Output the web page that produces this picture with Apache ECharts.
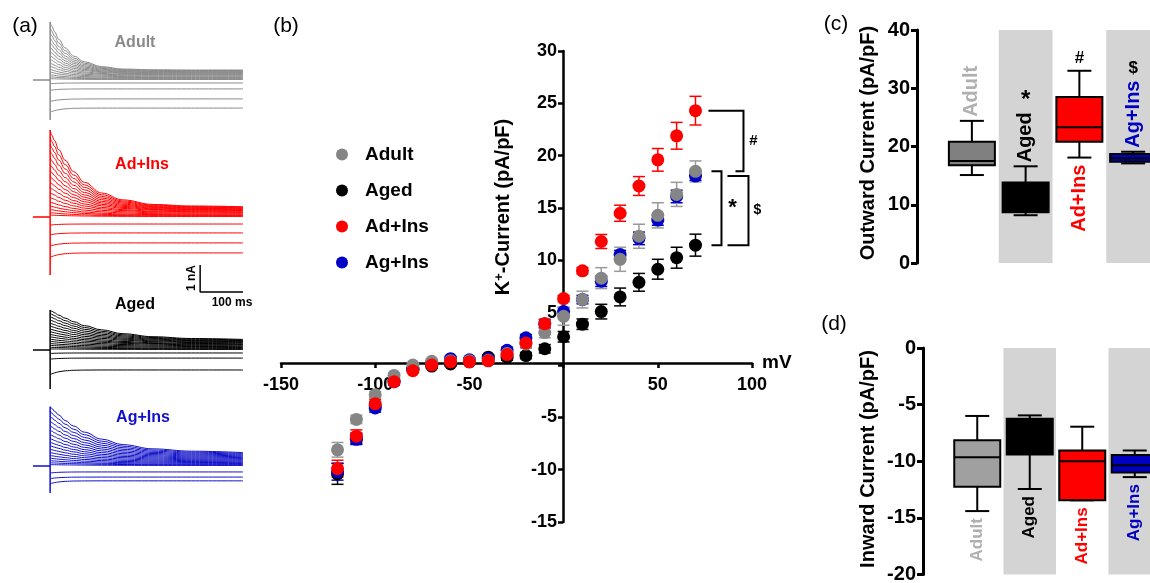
<!DOCTYPE html>
<html>
<head>
<meta charset="utf-8">
<title>K+ current</title>
<script src="https://cdn.jsdelivr.net/npm/echarts@6.0.0/dist/echarts.min.js"></script>
<style>
  html, body { margin: 0; padding: 0; background: #fff; }
  #chart { width: 1150px; height: 583px; }
</style>
</head>
<body>
<div id="chart"></div>
<script>
var FONT = '"Liberation Sans", Arial, Helvetica, sans-serif'

// ---- (a) current traces: time in ms, current in nA
var holdStart = -40
var traceTimes = [0, 4, 10, 20, 35, 55, 80, 120, 170, 240, 330, 450]
var adultDecay = [1, 0.91, 0.8, 0.64, 0.46, 0.29, 0.17, 0.07, 0.02, 0.005, 0, 0]
var adInsDecay = [1, 0.94, 0.87, 0.75, 0.61, 0.46, 0.32, 0.18, 0.09, 0.03, 0.01, 0]
var agedDecay = [1, 0.96, 0.91, 0.83, 0.73, 0.61, 0.48, 0.34, 0.21, 0.11, 0.05, 0.02]
var agInsDecay = [1, 0.96, 0.9, 0.82, 0.7, 0.58, 0.45, 0.3, 0.18, 0.09, 0.04, 0.01]
var inwardDecay = [1, 0.8, 0.6, 0.37, 0.17, 0.06, 0.02, 0, 0, 0, 0, 0]

var adultPeak = [2.15, 1.95, 1.76, 1.57, 1.4, 1.23, 1.07, 0.92, 0.78, 0.64, 0.52, 0.4, 0.3, 0.2, 0.12, 0.05]
var adultEnd = [0.37, 0.35, 0.33, 0.31, 0.29, 0.27, 0.25, 0.23, 0.2, 0.18, 0.15, 0.12, 0.09, 0.06, 0.04, 0.02]
var adultInPeak = [-0.14, -0.38, -0.8, -1.2]
var adultInEnd = [-0.11, -0.33, -0.7, -1.04]
var adultSpike = [-1.48, 2.15]

var adInsPeak = [3.2, 2.95, 2.7, 2.45, 2.2, 1.96, 1.73, 1.51, 1.3, 1.1, 0.91, 0.73, 0.56, 0.41, 0.28, 0.16, 0.07]
var adInsEnd = [0.38, 0.36, 0.34, 0.32, 0.3, 0.28, 0.26, 0.24, 0.22, 0.19, 0.17, 0.14, 0.11, 0.08, 0.06, 0.04, 0.02]
var adInsInPeak = [-0.3, -0.66, -1.08, -1.5]
var adInsInEnd = [-0.26, -0.59, -0.96, -1.33]
var adInsSpike = [-2.15, 3.22]

var agedPeak = [1.48, 1.36, 1.24, 1.12, 1.0, 0.89, 0.78, 0.68, 0.58, 0.49, 0.4, 0.32, 0.24, 0.17, 0.1, 0.04]
var agedEnd = [0.37, 0.35, 0.33, 0.31, 0.29, 0.27, 0.25, 0.22, 0.2, 0.18, 0.15, 0.12, 0.09, 0.06, 0.04, 0.02]
var agedInPeak = [-0.13, -0.34, -0.92]
var agedInEnd = [-0.11, -0.3, -0.74]
var agedSpike = [-1.44, 1.48]

var agInsPeak = [2.2, 2.02, 1.84, 1.66, 1.49, 1.33, 1.17, 1.02, 0.88, 0.75, 0.62, 0.5, 0.39, 0.29, 0.2, 0.12, 0.05]
var agInsEnd = [0.48, 0.45, 0.42, 0.39, 0.36, 0.33, 0.3, 0.27, 0.24, 0.21, 0.18, 0.15, 0.12, 0.09, 0.06, 0.04, 0.02]
var agInsInPeak = [-0.26, -0.47, -0.66]
var agInsInEnd = [-0.22, -0.41, -0.55]
var agInsSpike = [-1.0, 2.19]

// scale bar (1 nA, 100 ms) in the Ad+Ins panel
var scaleBarT = [350, 350, 450]
var scaleBarI = [-1.78, -2.78, -2.78]

// ---- (b) I-V relation
var voltages = [-120, -110, -100, -90, -80, -70, -60, -50, -40, -30, -20, -10, 0, 10, 20, 30, 40, 50, 60, 70]
var adultIV = [-8.1, -5.2, -2.85, -1.0, 0.0, 0.35, 0.4, 0.4, 0.45, 1.1, 2.0, 3.1, 4.65, 6.25, 8.3, 10.1, 12.3, 14.3, 16.3, 18.5]
var agedIV = [-10.4, -7.0, -3.9, -1.5, -0.4, -0.1, 0.1, 0.3, 0.75, 0.75, 0.9, 1.55, 2.7, 3.9, 5.1, 6.5, 7.9, 9.15, 10.25, 11.45]
var adInsIV = [-9.9, -6.8, -3.7, -1.6, -0.55, 0.0, 0.3, 0.3, 0.4, 1.0, 2.1, 3.95, 6.35, 9.0, 11.8, 14.5, 17.1, 19.6, 21.9, 24.3]
var agInsIV = [-10.2, -7.1, -4.1, -1.6, -0.4, 0.2, 0.6, 0.5, 0.6, 1.4, 2.6, 3.95, 5.1, 6.25, 8.0, 10.55, 12.1, 13.85, 16.1, 18.05]
var adultErr = [0.7, 0.4, 0.3, 0.2, 0.2, 0.2, 0.2, 0.2, 0.2, 0.3, 0.4, 0.5, 0.85, 0.8, 1.0, 1.15, 1.15, 1.2, 1.15, 1.0]
var agedErr = [1.0, 0.5, 0.4, 0.2, 0.2, 0.2, 0.2, 0.2, 0.2, 0.3, 0.3, 0.4, 0.5, 0.5, 0.7, 0.85, 0.85, 0.95, 1.0, 1.05]
var adInsErr = [0.8, 0.6, 0.4, 0.3, 0.2, 0.2, 0.2, 0.2, 0.2, 0.3, 0.4, 0.4, 0.3, 0.3, 0.67, 0.77, 0.9, 1.08, 1.28, 1.37]
var agInsErr = [0.8, 0.5, 0.4, 0.3, 0.2, 0.2, 0.2, 0.2, 0.2, 0.3, 0.3, 0.4, 0.4, 0.4, 0.5, 0.4, 0.6, 0.5, 0.6, 0.4]

// ---- (c)/(d) box plots: [min, Q1, median, Q3, max]
var boxGroups = ['Adult', 'Aged', 'Ad+Ins', 'Ag+Ins']
var outwardBox = [[15.1, 16.8, 17.5, 20.8, 24.4], [8.2, 8.7, 9.0, 13.8, 16.6], [18.1, 20.8, 23.3, 28.5, 33.0], [17.1, 17.4, 18.0, 18.7, 19.1]]
var inwardBox = [[-14.4, -12.25, -9.65, -8.15, -6.0], [-12.45, -9.4, -7.6, -6.25, -5.95], [-13.45, -13.45, -10.0, -9.05, -6.95], [-11.4, -11.0, -10.35, -9.45, -9.05]]
var outwardMarks = ['', '*', '#', '$']

var chart = echarts.init(document.getElementById('chart'))
var series = []
var measureCtx = document.createElement('canvas').getContext('2d')
function textWidth (s, font) {
  measureCtx.font = font
  return measureCtx.measureText(s).width
}

// panel (a)
var tracePanels = [
  { color: '#8a8a8a', decay: adultDecay, peaks: adultPeak, ends: adultEnd, inPeaks: adultInPeak, inEnds: adultInEnd, spike: adultSpike },
  { color: '#ff0000', decay: adInsDecay, peaks: adInsPeak, ends: adInsEnd, inPeaks: adInsInPeak, inEnds: adInsInEnd, spike: adInsSpike },
  { color: '#000000', decay: agedDecay, peaks: agedPeak, ends: agedEnd, inPeaks: agedInPeak, inEnds: agedInEnd, spike: agedSpike },
  { color: '#1010c8', decay: agInsDecay, peaks: agInsPeak, ends: agInsEnd, inPeaks: agInsInPeak, inEnds: agInsInEnd, spike: agInsSpike }
]
var traceGrids = [
  { top: 19.25, height: 108, min: -1.75, max: 2.25 },
  { top: 122.5, height: 175.5, min: -3.0, max: 3.5 },
  { top: 302.75, height: 94.5, min: -1.75, max: 1.75 },
  { top: 398.5, height: 101.25, min: -1.25, max: 2.5 }
]
function lineSeries (g, color, data) {
  return {
    type: 'line', xAxisIndex: g, yAxisIndex: g, data: data,
    showSymbol: false, smooth: 0.4, smoothMonotone: 'x', silent: true,
    lineStyle: { color: color, width: 1 }
  }
}
tracePanels.forEach(function (p, g) {
  function addTrace (peak, end, decay) {
    series.push(lineSeries(g, p.color, traceTimes.map(function (t, i) {
      return [t, end + (peak - end) * decay[i]]
    })))
  }
  p.peaks.forEach(function (pk, k) { addTrace(pk, p.ends[k], p.decay) })
  p.inPeaks.forEach(function (pk, k) { addTrace(pk, p.inEnds[k], inwardDecay) })
  // holding level and capacitive spike
  var s = lineSeries(g, p.color, [[holdStart, 0], [0, 0], [0, p.spike[0]], [0, p.spike[1]]])
  s.smooth = false
  s.lineStyle.width = 1.5
  series.push(s)
})
var bar = lineSeries(1, '#000', scaleBarT.map(function (t, i) { return [t, scaleBarI[i]] }))
bar.smooth = false
bar.lineStyle.width = 1.5
series.push(bar)

// panel (b)
var ivSeries = [
  { name: 'Aged', color: '#000000', err: '#000000', v: agedIV, e: agedErr },
  { name: 'Ag+Ins', color: '#0000c8', err: '#0000c8', v: agInsIV, e: agInsErr },
  { name: 'Adult', color: '#858585', err: '#9a9a9a', v: adultIV, e: adultErr },
  { name: 'Ad+Ins', color: '#ff0000', err: '#ff0000', v: adInsIV, e: adInsErr }
]
function errorBarItem (params, api) {
  var p1 = api.coord([api.value(0), api.value(2)])
  var p2 = api.coord([api.value(0), api.value(1)])
  var w = 6
  var st = { stroke: api.visual('color'), lineWidth: 1.5 }
  return {
    type: 'group',
    children: [
      { type: 'line', shape: { x1: p1[0], y1: p1[1], x2: p2[0], y2: p2[1] }, style: st },
      { type: 'line', shape: { x1: p1[0] - w, y1: p1[1], x2: p1[0] + w, y2: p1[1] }, style: st },
      { type: 'line', shape: { x1: p2[0] - w, y1: p2[1], x2: p2[0] + w, y2: p2[1] }, style: st }
    ]
  }
}
ivSeries.forEach(function (s) {
  series.push({
    type: 'custom', name: s.name + ' SEM', xAxisIndex: 4, yAxisIndex: 4, z: 2, silent: true,
    itemStyle: { color: s.err },
    renderItem: errorBarItem,
    encode: { x: 0, y: [1, 2] },
    data: voltages.map(function (v, i) { return [v, s.v[i] - s.e[i], s.v[i] + s.e[i]] })
  })
})
ivSeries.forEach(function (s) {
  series.push({
    type: 'scatter', name: s.name, xAxisIndex: 4, yAxisIndex: 4, z: 3,
    symbolSize: 13, itemStyle: { color: s.color, opacity: 1 },
    data: voltages.map(function (v, i) { return [v, s.v[i]] })
  })
})

// significance brackets at the last voltage step
var last = voltages.length - 1
var brackets = [
  [voltages[last], adInsIV[last], adultIV[last]],
  [voltages[last], adultIV[last], agedIV[last]],
  [voltages[last], agInsIV[last], agedIV[last]]
]
var bracketLayout = [
  { from: 13, to: 48, back: 40, textX: 58, mark: '#', size: 15 },
  { from: 16, to: 26, back: 16, textX: 37, mark: '*', size: 22 },
  { from: 32, to: 53, back: 32, textX: 62, mark: '$', size: 14 }
]
series.push({
  type: 'custom', xAxisIndex: 4, yAxisIndex: 4, silent: true, z: 4,
  encode: { x: 0, y: [1, 2] },
  renderItem: function (params, api) {
    var L = bracketLayout[params.dataIndex]
    var pt = api.coord([api.value(0), api.value(1)])
    var pb = api.coord([api.value(0), api.value(2)])
    var x0 = pt[0]
    return {
      type: 'group',
      children: [
        { type: 'polyline', shape: { points: [[x0 + L.from, pt[1]], [x0 + L.to, pt[1]], [x0 + L.to, pb[1]], [x0 + L.back, pb[1]]] },
          style: { stroke: '#000', lineWidth: 2, fill: null } },
        { type: 'text', x: x0 + L.textX, y: (pt[1] + pb[1]) / 2,
          style: { text: L.mark, fill: '#000', fontSize: L.size, fontWeight: 'bold', fontFamily: FONT, align: 'center', verticalAlign: 'middle' } }
      ]
    }
  },
  data: brackets
})

// panels (c) and (d)
function boxRenderer (cfg) {
  return function (params, api) {
    var i = api.value(0)
    var pMin = api.coord([i, api.value(1)])
    var pQ1 = api.coord([i, api.value(2)])
    var pMed = api.coord([i, api.value(3)])
    var pQ3 = api.coord([i, api.value(4)])
    var pMax = api.coord([i, api.value(5)])
    var x = pMin[0], hw = 23, cap = 12
    var ln = { stroke: '#000', lineWidth: 2 }
    var kids = [
      { type: 'line', shape: { x1: x, y1: pMax[1], x2: x, y2: pQ3[1] }, style: ln },
      { type: 'line', shape: { x1: x - cap, y1: pMax[1], x2: x + cap, y2: pMax[1] }, style: ln },
      { type: 'line', shape: { x1: x, y1: pQ1[1], x2: x, y2: pMin[1] }, style: ln },
      { type: 'line', shape: { x1: x - cap, y1: pMin[1], x2: x + cap, y2: pMin[1] }, style: ln },
      { type: 'rect', shape: { x: x - hw, y: pQ3[1], width: 2 * hw, height: pQ1[1] - pQ3[1] },
        style: { fill: cfg.fills[i], stroke: '#000', lineWidth: 2 } },
      { type: 'line', shape: { x1: x - hw, y1: pMed[1], x2: x + hw, y2: pMed[1] }, style: ln }
    ]
    var font = 'bold ' + cfg.labelSize + 'px ' + FONT
    var above = cfg.above[i]
    var ay = above ? pMax[1] - 4 : pMin[1] + 7
    kids.push({
      type: 'text', x: x, y: ay, rotation: Math.PI / 2,
      style: { text: boxGroups[i], fill: cfg.labelColors[i], fontSize: cfg.labelSize, fontWeight: 'bold', fontFamily: FONT,
        align: above ? 'left' : 'right', verticalAlign: 'middle' }
    })
    var mark = cfg.marks[i]
    if (mark) {
      var top = above ? ay - textWidth(boxGroups[i], font) : pMax[1]
      kids.push({
        type: 'text', x: x, y: top - 12,
        style: { text: mark, fill: '#000', fontSize: mark === '*' ? 24 : 17, fontWeight: 'bold', fontFamily: FONT,
          align: 'center', verticalAlign: 'middle' }
      })
    }
    return { type: 'group', children: kids }
  }
}
var labelColors = ['#b0b0b0', '#000000', '#ff0000', '#0000c0']
series.push({
  type: 'custom', xAxisIndex: 5, yAxisIndex: 5, silent: true,
  encode: { x: 0, y: [1, 2, 3, 4, 5] },
  renderItem: boxRenderer({ fills: ['#808080', '#000000', '#ff0000', '#0000c0'], labelColors: labelColors,
    above: [true, true, false, true], marks: outwardMarks, labelSize: 20 }),
  data: outwardBox.map(function (b, i) { return [i].concat(b) })
})
series.push({
  type: 'custom', xAxisIndex: 6, yAxisIndex: 6, silent: true,
  encode: { x: 0, y: [1, 2, 3, 4, 5] },
  renderItem: boxRenderer({ fills: ['#a0a0a0', '#000000', '#ff0000', '#0000c0'], labelColors: labelColors,
    above: [false, false, false, false], marks: ['', '', '', ''], labelSize: 17 }),
  data: inwardBox.map(function (b, i) { return [i].concat(b) })
})

// axes
var grids = []
var xAxes = []
var yAxes = []
traceGrids.forEach(function (tg, g) {
  grids.push({ left: 33, width: 210, top: tg.top, height: tg.height, outerBoundsMode: 'none' })
  xAxes.push({ type: 'value', gridIndex: g, min: holdStart, max: 450, show: false })
  yAxes.push({ type: 'value', gridIndex: g, min: tg.min, max: tg.max, show: false })
})
// (b): axes cross at the origin; moved in from the grid edges with a negative offset
var blackLine = { show: true, onZero: false, lineStyle: { color: '#000', width: 2.5 } }
var tickStyle = { show: true, length: 5, lineStyle: { color: '#000', width: 2.5 } }
var labelStyle = { color: '#000', fontSize: 18, fontWeight: 'bold', fontFamily: FONT }
grids.push({ left: 281, top: 51, width: 471, height: 471, outerBoundsMode: 'none' })
xAxes.push({
  type: 'value', gridIndex: 4, position: 'bottom', offset: -159, min: -150, max: 100, interval: 50,
  axisLine: blackLine, axisTick: tickStyle, splitLine: { show: false },
  axisLabel: Object.assign({ margin: 13, formatter: function (v) { return v === 0 ? '' : String(v) } }, labelStyle),
  name: 'mV', nameLocation: 'end', nameGap: 10,
  nameTextStyle: { color: '#000', fontSize: 19, fontWeight: 'bold', fontFamily: FONT, align: 'left', verticalAlign: 'middle', padding: [8, 0, 0, 0] }
})
yAxes.push({
  type: 'value', gridIndex: 4, position: 'left', offset: -282, min: -15, max: 30, interval: 5,
  axisLine: blackLine, axisTick: tickStyle, splitLine: { show: false },
  axisLabel: Object.assign({ margin: 6, formatter: function (v) { return v === 0 ? '' : String(v) } }, labelStyle)
})
var boxAxisLine = { show: true, lineStyle: { color: '#000', width: 3 } }
var boxTick = { show: true, length: 6, lineStyle: { color: '#000', width: 3 } }
var boxLabel = { color: '#000', fontSize: 20, fontWeight: 'bold', fontFamily: FONT, margin: 7 }
var bandArea = { show: true, areaStyle: { color: ['rgba(255,255,255,0)', '#d4d4d4'] } }
grids.push({ left: 945, top: 30, width: 215, height: 233, outerBoundsMode: 'none' })
grids.push({ left: 951, top: 348, width: 210, height: 226.5, outerBoundsMode: 'none' })
;[5, 6].forEach(function (g) {
  xAxes.push({
    type: 'category', gridIndex: g, data: boxGroups, boundaryGap: true,
    axisLine: { show: false }, axisTick: { show: false }, axisLabel: { show: false },
    splitLine: { show: false }, splitArea: bandArea
  })
})
yAxes.push({ type: 'value', gridIndex: 5, min: 0, max: 40, interval: 10, offset: 28,
  axisLine: boxAxisLine, axisTick: boxTick, axisLabel: boxLabel, splitLine: { show: false } })
yAxes.push({ type: 'value', gridIndex: 6, min: -20, max: 0, interval: 5, offset: 28,
  axisLine: boxAxisLine, axisTick: boxTick, axisLabel: boxLabel, splitLine: { show: false } })

function txt (text, x, y, size, color, opts) {
  return Object.assign({
    type: 'text', x: x, y: y, silent: true,
    style: { text: text, fill: color, fontSize: size, fontWeight: 'bold', fontFamily: FONT, align: 'center', verticalAlign: 'middle' }
  }, opts || {})
}
function plain (t) { t.style.fontWeight = 'normal'; return t }
var graphics = [
  plain(txt('(a)', 25, 26, 21, '#000')),
  plain(txt('(b)', 286, 26, 21, '#000')),
  plain(txt('(c)', 836, 24, 21, '#000')),
  plain(txt('(d)', 834, 324, 21, '#000')),
  txt('Adult', 135, 43, 16, '#8a8a8a'),
  txt('Ad+Ins', 142, 165, 16, '#ff0000'),
  txt('Aged', 135, 305, 16, '#000'),
  txt('Ag+Ins', 143, 418, 16, '#1010c8'),
  txt('1 nA', 192, 278, 12, '#000', { rotation: Math.PI / 2 }),
  txt('100 ms', 232, 303, 12, '#000'),
  {
    type: 'text', x: 503, y: 207, rotation: Math.PI / 2, silent: true,
    style: {
      text: '{m|K}{s|+}{m|-Current (pA/pF)}', align: 'center', verticalAlign: 'middle',
      rich: {
        m: { fontSize: 20, fontWeight: 'bold', fontFamily: FONT, fill: '#000' },
        s: { fontSize: 13, fontWeight: 'bold', fontFamily: FONT, fill: '#000', verticalAlign: 'top', padding: [0, 0, 8, 0] }
      }
    }
  },
  txt('Outward Current (pA/pF)', 868, 143, 20, '#000', { rotation: Math.PI / 2 }),
  txt('Inward Current (pA/pF)', 868, 459, 20, '#000', { rotation: Math.PI / 2 })
]

var option = {
  animation: false,
  backgroundColor: '#fff',
  textStyle: { fontFamily: FONT },
  legend: {
    data: ['Adult', 'Aged', 'Ad+Ins', 'Ag+Ins'],
    orient: 'vertical', left: 331, top: 140,
    icon: 'circle', itemWidth: 36, itemHeight: 12, itemGap: 17,
    selectedMode: false,
    textStyle: { color: '#000', fontSize: 19, fontWeight: 'bold', fontFamily: FONT }
  },
  grid: grids,
  xAxis: xAxes,
  yAxis: yAxes,
  series: series,
  graphic: graphics
}
chart.setOption(option)
</script>
</body>
</html>
